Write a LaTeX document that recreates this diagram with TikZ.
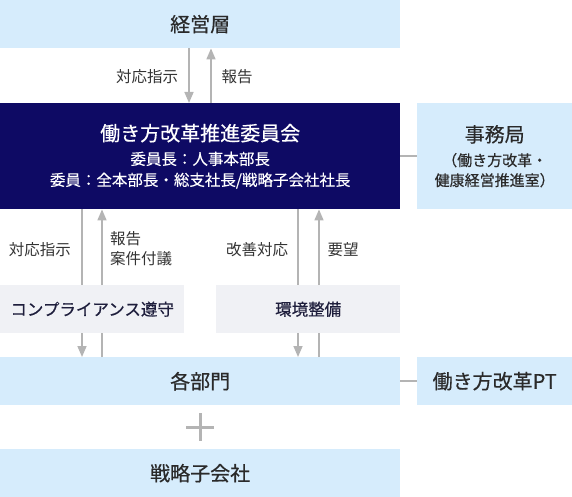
\documentclass[tikz,border=0pt]{standalone}
\usepackage{fontspec}
\setmainfont{Noto Sans CJK JP}
\newfontfamily\jpm[FakeBold=0.5]{Noto Sans CJK JP}
\newfontfamily\jpl[FakeBold=0.2]{Noto Sans CJK JP}
\usetikzlibrary{arrows.meta}
\definecolor{lblue}{HTML}{D6ECFC}
\definecolor{navy}{HTML}{0E0A64}
\definecolor{lgray}{HTML}{F0F1F5}
\definecolor{arr}{HTML}{B4B4B4}
\definecolor{txt}{HTML}{2A2A2A}
\definecolor{ltxt}{HTML}{333333}
\definecolor{gtxt}{HTML}{1E1E3C}
\begin{document}
\begin{tikzpicture}[x=1pt,y=-1pt,
  box/.style={anchor=north west, inner sep=0pt, fill=lblue, text=txt,
    font=\jpm\fontsize{20}{22}\selectfont},
  navybox/.style={box, fill=navy, text=white},
  graybox/.style={box, fill=lgray, text=gtxt, font=\jpm\fontsize{16.5}{20}\selectfont},
  lbl/.style={inner sep=0pt, text=ltxt, font=\fontsize{15.5}{20}\selectfont},
  flow/.style={draw=arr, line width=1.6pt},
  flowhead/.style={flow, -{Triangle[length=11pt,width=9pt]}},
  link/.style={draw=arr, line width=1.5pt}
]
\useasboundingbox (0,0) rectangle (572,497);

% boxes
\node[box, minimum width=400pt, minimum height=48pt] (keiei) at (0,0) {経営層};
\node[navybox, minimum width=400pt, minimum height=106pt, align=center] (comm) at (0,103)
  {{\jpm\fontsize{20}{22}\selectfont 働き方改革推進委員会}\\[2pt]
   {\jpl\fontsize{15.5}{22}\selectfont 委員長：人事本部長}\\[-1pt]
   {\jpl\fontsize{15.5}{22}\selectfont 委員：全本部長・総支社長/戦略子会社社長}};
\node[box, minimum width=155pt, minimum height=106pt, align=center] (jimu) at (417,103)
  {{\jpm\fontsize{20}{22}\selectfont 事務局}\\[2pt]
   {\fontsize{15}{20}\selectfont （働き方改革・}\\[-2pt]
   {\fontsize{15}{20}\selectfont 健康経営推進室）}};
\node[graybox, minimum width=184pt, minimum height=48pt] (comp) at (0,285) {コンプライアンス遵守};
\node[graybox, minimum width=184pt, minimum height=48pt] (kankyo) at (216,285) {環境整備};
\node[box, minimum width=400pt, minimum height=48pt] (kakubu) at (0,357) {各部門};
\node[box, minimum width=155pt, minimum height=48pt] (pt) at (417,357) {働き方改革PT};
\node[box, minimum width=400pt, minimum height=48pt] (senryaku) at (0,449) {戦略子会社};

% arrow columns
\coordinate (xa) at (189,0);
\coordinate (xb) at (211,0);
\coordinate (xc) at (82,0);
\coordinate (xd) at (102,0);
\coordinate (xe) at (298,0);
\coordinate (xf) at (319,0);

% top arrows
\draw[flowhead] (xa |- keiei.south) -- (xa |- comm.north);
\draw[flowhead] (xb |- comm.north) -- (xb |- keiei.south);

% left column
\draw[flow] (xc |- comm.south) -- (xc |- comp.north);
\draw[flowhead] (xc |- comp.south) -- (xc |- kakubu.north);
\draw[flow] (xd |- kakubu.north) -- (xd |- comp.south);
\draw[flowhead] (xd |- comp.north) -- (xd |- comm.south);

% right column
\draw[flow] (xe |- comm.south) -- (xe |- kankyo.north);
\draw[flowhead] (xe |- kankyo.south) -- (xe |- kakubu.north);
\draw[flow] (xf |- kakubu.north) -- (xf |- kankyo.south);
\draw[flowhead] (xf |- kankyo.north) -- (xf |- comm.south);

% side links
\draw[link] (comm.east) -- (jimu.west);
\draw[link] (kakubu.east) -- (pt.west);

% plus sign
\coordinate (plus) at (200,427);
\draw[draw=arr, line width=3pt] ([xshift=-14pt]plus) -- ([xshift=14pt]plus);
\draw[draw=arr, line width=3pt] ([yshift=14pt]plus) -- ([yshift=-14pt]plus);

% labels
\node[lbl] (l1) at (147,77) {対応指示};
\node[lbl] (l2) at (237,77) {報告};
\node[lbl] (l3) at (40,250) {対応指示};
\node[lbl, anchor=west, align=left] (l4) at (110,249) {報告\\案件付議};
\node[lbl] (l5) at (257,250) {改善対応};
\node[lbl] (l6) at (343,250) {要望};
\end{tikzpicture}
\end{document}
